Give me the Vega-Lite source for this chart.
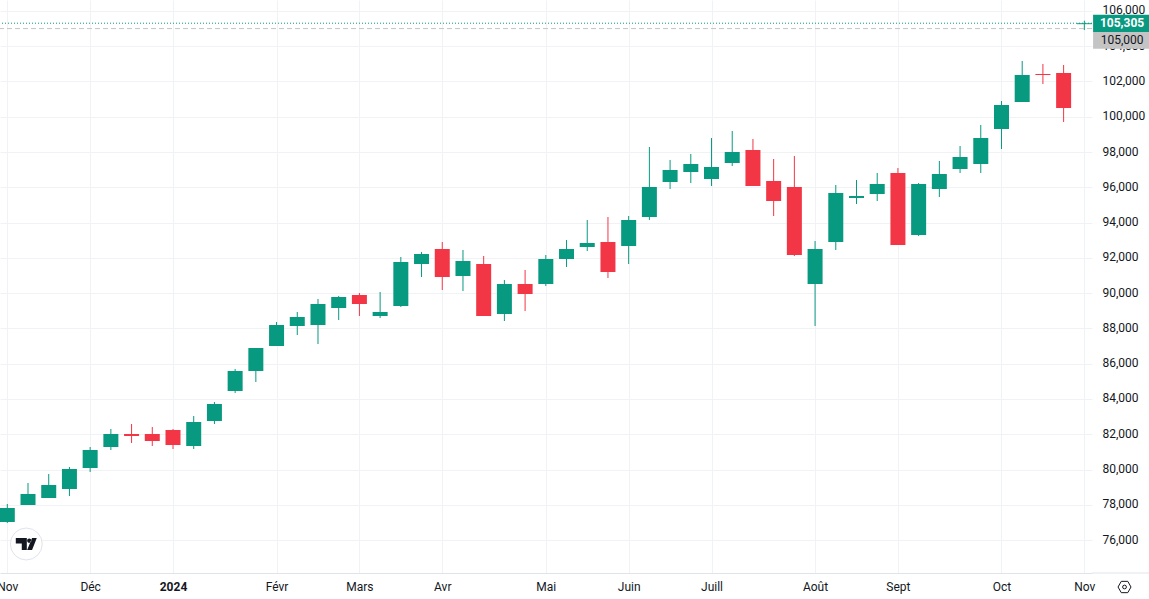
{"$schema":"https://vega.github.io/schema/vega-lite/v6.json","width":1092,"height":573,"autosize":{"type":"none"},"padding":{"left":0,"top":0,"right":57,"bottom":26},"background":"#ffffff","config":{"view":{"stroke":null},"font":"Roboto"},
"resolve":{"axis":{"x":"independent","y":"independent"}},
"datasets":{"candles":[
{"date":"2023-11-06","open":77024,"high":78044,"low":76967,"close":77817},
{"date":"2023-11-13","open":77987,"high":79235,"low":77987,"close":78611},
{"date":"2023-11-20","open":78384,"high":79745,"low":78384,"close":79121},
{"date":"2023-11-27","open":78895,"high":80142,"low":78498,"close":80029},
{"date":"2023-12-04","open":80085,"high":81276,"low":79859,"close":81106},
{"date":"2023-12-11","open":81276,"high":82297,"low":81106,"close":82013},
{"date":"2023-12-18","open":82013,"high":82580,"low":81503,"close":81900},
{"date":"2023-12-25","open":82013,"high":82410,"low":81333,"close":81616},
{"date":"2024-01-01","open":82240,"high":82297,"low":81163,"close":81389},
{"date":"2024-01-08","open":81333,"high":83034,"low":81163,"close":82694},
{"date":"2024-01-15","open":82750,"high":83828,"low":82580,"close":83714},
{"date":"2024-01-22","open":84451,"high":85699,"low":84338,"close":85585},
{"date":"2024-01-29","open":85585,"high":86889,"low":84962,"close":86889},
{"date":"2024-02-05","open":87003,"high":88364,"low":87003,"close":88193},
{"date":"2024-02-12","open":88137,"high":88931,"low":87626,"close":88647},
{"date":"2024-02-19","open":88193,"high":89668,"low":87116,"close":89384},
{"date":"2024-02-26","open":89157,"high":89838,"low":88477,"close":89781},
{"date":"2024-03-04","open":89894,"high":90008,"low":88704,"close":89384},
{"date":"2024-03-11","open":88704,"high":90065,"low":88590,"close":88931},
{"date":"2024-03-18","open":89271,"high":92049,"low":89214,"close":91766},
{"date":"2024-03-25","open":91652,"high":92333,"low":90915,"close":92219},
{"date":"2024-04-01","open":92503,"high":92900,"low":90178,"close":90915},
{"date":"2024-04-08","open":90972,"high":92446,"low":90121,"close":91822},
{"date":"2024-04-15","open":91652,"high":92106,"low":88704,"close":88704},
{"date":"2024-04-22","open":88817,"high":90745,"low":88420,"close":90518},
{"date":"2024-04-29","open":90518,"high":91312,"low":88987,"close":89951},
{"date":"2024-05-06","open":90518,"high":92162,"low":90405,"close":91936},
{"date":"2024-05-13","open":91936,"high":93013,"low":91482,"close":92503},
{"date":"2024-05-20","open":92616,"high":94147,"low":92389,"close":92843},
{"date":"2024-05-27","open":92900,"high":94317,"low":90858,"close":91199},
{"date":"2024-06-03","open":92673,"high":94374,"low":91652,"close":94147},
{"date":"2024-06-10","open":94317,"high":98286,"low":94147,"close":96018},
{"date":"2024-06-17","open":96302,"high":97549,"low":95905,"close":96982},
{"date":"2024-06-24","open":96869,"high":97889,"low":96245,"close":97322},
{"date":"2024-07-01","open":96472,"high":98796,"low":96075,"close":97152},
{"date":"2024-07-08","open":97379,"high":99193,"low":97209,"close":98003},
{"date":"2024-07-15","open":98116,"high":98740,"low":96075,"close":96075},
{"date":"2024-07-22","open":96358,"high":97606,"low":94374,"close":95224},
{"date":"2024-07-29","open":96018,"high":97776,"low":92106,"close":92162},
{"date":"2024-08-05","open":90518,"high":92956,"low":88137,"close":92503},
{"date":"2024-08-12","open":92900,"high":96131,"low":92446,"close":95678},
{"date":"2024-08-19","open":95394,"high":96415,"low":95054,"close":95508},
{"date":"2024-08-26","open":95621,"high":96812,"low":95224,"close":96188},
{"date":"2024-09-02","open":96812,"high":97095,"low":92729,"close":92729},
{"date":"2024-09-09","open":93296,"high":96245,"low":93240,"close":96188},
{"date":"2024-09-16","open":95905,"high":97492,"low":95451,"close":96755},
{"date":"2024-09-23","open":97039,"high":98343,"low":96812,"close":97719},
{"date":"2024-09-30","open":97322,"high":99533,"low":96812,"close":98796},
{"date":"2024-10-07","open":99307,"high":100894,"low":98173,"close":100667},
{"date":"2024-10-14","open":100838,"high":103162,"low":100838,"close":102368},
{"date":"2024-10-21","open":102425,"high":102992,"low":101858,"close":102368},
{"date":"2024-10-28","open":102482,"high":102935,"low":99704,"close":100497},
{"date":"2024-11-04","open":105250,"high":105447,"low":104920,"close":105305}
]},
"data":{"name":"candles"},
"layer":[
{"mark":{"type":"rule","strokeWidth":1},
 "encoding":{
  "x":{"field":"date","type":"temporal","title":null,"scale":{"type":"utc","domain":["2023-11-03T12:46:00Z","2024-11-06T14:10:00Z"],"nice":false,"padding":0},
   "axis":{"orient":"bottom","values":["2023-11-06T00:00:00Z","2023-12-04T00:00:00Z","2024-01-01T00:00:00Z","2024-02-05T00:00:00Z","2024-03-04T00:00:00Z","2024-04-01T00:00:00Z","2024-05-06T00:00:00Z","2024-06-03T00:00:00Z","2024-07-01T00:00:00Z","2024-08-05T00:00:00Z","2024-09-02T00:00:00Z","2024-10-07T00:00:00Z","2024-11-04T00:00:00Z"],
    "labelExpr":"utcmonth(datum.value)==0 ? '2024' : ['','Févr','Mars','Avr','Mai','Juin','Juill','Août','Sept','Oct','Nov','Déc'][utcmonth(datum.value)]",
    "labelFontWeight":{"condition":{"test":"utcmonth(datum.value)==0","value":"bold"},"value":"normal"},
    "labelFont":"Roboto","labelFontSize":12,"labelColor":"#131722","labelPadding":8,"labelOverlap":false,"labelBound":false,"labelFlush":false,"ticks":false,"domainColor":"#e0e3eb","domainWidth":1,"grid":true,"gridColor":"#f1f2f5","gridWidth":1,"title":null}},
  "y":{"field":"low","type":"quantitative","title":null,"scale":{"domain":[74132,106621],"nice":false,"zero":false},
   "axis":{"orient":"right","values":[76000,78000,80000,82000,84000,86000,88000,90000,92000,94000,96000,98000,100000,102000,104000,106000],"format":",d","labelFont":"Roboto","labelFontSize":12,"labelColor":"#131722","labelPadding":10,"labelOffset":-1,"ticks":false,"domain":false,"grid":true,"gridColor":"#f1f2f5","gridWidth":1,"title":null,"labelOverlap":false,"labelBound":false}},
  "y2":{"field":"high"},
  "color":{"condition":{"test":"datum.close>=datum.open","value":"#089981"},"value":"#F23645"}}},
{"mark":{"type":"bar","width":15},
 "encoding":{
  "x":{"field":"date","type":"temporal","axis":null,"scale":{"type":"utc","domain":["2023-11-03T12:46:00Z","2024-11-06T14:10:00Z"],"nice":false,"padding":0}},
  "y":{"field":"open","type":"quantitative","axis":null,"scale":{"domain":[74132,106621],"nice":false,"zero":false}},
  "y2":{"field":"close"},
  "color":{"condition":{"test":"datum.close>=datum.open","value":"#089981"},"value":"#F23645"}}},
{"data":{"values":[{"price":105305}]},"mark":{"type":"rule","color":"#089981","strokeWidth":1,"strokeDash":[1,2]},
 "encoding":{"y":{"field":"price","type":"quantitative","axis":null,"scale":{"domain":[74132,106621],"nice":false,"zero":false}}}},
{"data":{"values":[{"price":105000}]},"mark":{"type":"rule","color":"#c4c4c4","strokeWidth":1,"strokeDash":[5,3]},
 "encoding":{"y":{"field":"price","type":"quantitative","axis":null,"scale":{"domain":[74132,106621],"nice":false,"zero":false}}}},
{"data":{"values":[{"from":"2024-11-06T14:10:00Z","to":"2024-11-30T00:00:00Z","v":74132}]},"mark":{"type":"rule","color":"#e0e3eb","strokeWidth":1},
 "encoding":{"x":{"field":"from","type":"temporal","axis":null,"scale":{"type":"utc","domain":["2023-11-03T12:46:00Z","2024-11-06T14:10:00Z"],"nice":false,"padding":0}},"x2":{"field":"to"},
 "y":{"field":"v","type":"quantitative","axis":null,"scale":{"domain":[74132,106621],"nice":false,"zero":false}}}},
{"data":{"values":[{"from":"2024-11-06T23:00:00Z","to":"2024-11-30T00:00:00Z","top":105787,"bottom":104807,"fill":"green"},{"from":"2024-11-06T23:00:00Z","to":"2024-11-30T00:00:00Z","top":104807,"bottom":103860,"fill":"grey"}]},
 "mark":{"type":"rect"},
 "encoding":{"x":{"field":"from","type":"temporal","axis":null,"scale":{"type":"utc","domain":["2023-11-03T12:46:00Z","2024-11-06T14:10:00Z"],"nice":false,"padding":0}},"x2":{"field":"to"},
 "y":{"field":"top","type":"quantitative","axis":null,"scale":{"domain":[74132,106621],"nice":false,"zero":false}},"y2":{"field":"bottom"},
 "color":{"field":"fill","type":"nominal","legend":null,"scale":{"domain":["green","grey"],"range":["#089981","#c4c4c4"]}}}},
{"data":{"values":[{"at":"2024-11-16T18:00:00Z","v":105289,"label":"105,305"}]},
 "mark":{"type":"text","font":"Roboto","fontSize":12,"fontWeight":"bold","color":"#ffffff","align":"center","baseline":"middle"},
 "encoding":{"x":{"field":"at","type":"temporal","axis":null,"scale":{"type":"utc","domain":["2023-11-03T12:46:00Z","2024-11-06T14:10:00Z"],"nice":false,"padding":0}},
 "y":{"field":"v","type":"quantitative","axis":null,"scale":{"domain":[74132,106621],"nice":false,"zero":false}},
 "text":{"field":"label"}}},
{"data":{"values":[{"at":"2024-11-16T18:00:00Z","v":104336,"label":"105,000"}]},
 "mark":{"type":"text","font":"Roboto","fontSize":12,"color":"#131722","align":"center","baseline":"middle"},
 "encoding":{"x":{"field":"at","type":"temporal","axis":null,"scale":{"type":"utc","domain":["2023-11-03T12:46:00Z","2024-11-06T14:10:00Z"],"nice":false,"padding":0}},
 "y":{"field":"v","type":"quantitative","axis":null,"scale":{"domain":[74132,106621],"nice":false,"zero":false}},
 "text":{"field":"label"}}},
{"data":{"values":[{"at":"2023-11-12T10:00:00Z","v":75776}]},
 "mark":{"type":"point","shape":"circle","size":1018,"filled":true,"fill":"#ffffff","stroke":"#e0e3eb","strokeWidth":1,"opacity":1,"fillOpacity":1},
 "encoding":{"x":{"field":"at","type":"temporal","axis":null,"scale":{"type":"utc","domain":["2023-11-03T12:46:00Z","2024-11-06T14:10:00Z"],"nice":false,"padding":0}},
 "y":{"field":"v","type":"quantitative","axis":null,"scale":{"domain":[74132,106621],"nice":false,"zero":false}}}},
{"data":{"values":[{"at":"2023-11-12T10:00:00Z","v":75776}]},
 "mark":{"type":"point","shape":"M-1 -0.57L0.05 -0.57L0.05 0.57L-0.43 0.57L-0.43 -0.05L-1 -0.05ZM0.08 -0.32A0.2 0.2 0 1 0 0.48 -0.32A0.2 0.2 0 1 0 0.08 -0.32ZM0.55 -0.57L1 -0.57L0.55 0.57L0.08 0.57Z","size":441,"filled":true,"fill":"#131722","strokeWidth":0,"opacity":1,"fillOpacity":1},
 "encoding":{"x":{"field":"at","type":"temporal","axis":null,"scale":{"type":"utc","domain":["2023-11-03T12:46:00Z","2024-11-06T14:10:00Z"],"nice":false,"padding":0}},
 "y":{"field":"v","type":"quantitative","axis":null,"scale":{"domain":[74132,106621],"nice":false,"zero":false}}}},
{"data":{"values":[{"at":"2024-11-17T14:00:00Z","v":73338}]},
 "mark":{"type":"point","shape":"M-1 0L-0.5 -0.87L0.5 -0.87L1 0L0.5 0.87L-0.5 0.87Z","size":169,"filled":false,"stroke":"#131722","strokeWidth":1,"opacity":1},
 "encoding":{"x":{"field":"at","type":"temporal","axis":null,"scale":{"type":"utc","domain":["2023-11-03T12:46:00Z","2024-11-06T14:10:00Z"],"nice":false,"padding":0}},
 "y":{"field":"v","type":"quantitative","axis":null,"scale":{"domain":[74132,106621],"nice":false,"zero":false}}}},
{"data":{"values":[{"at":"2024-11-17T14:00:00Z","v":73338}]},
 "mark":{"type":"point","shape":"circle","size":14,"filled":false,"stroke":"#131722","strokeWidth":1,"opacity":1},
 "encoding":{"x":{"field":"at","type":"temporal","axis":null,"scale":{"type":"utc","domain":["2023-11-03T12:46:00Z","2024-11-06T14:10:00Z"],"nice":false,"padding":0}},
 "y":{"field":"v","type":"quantitative","axis":null,"scale":{"domain":[74132,106621],"nice":false,"zero":false}}}}
]}
